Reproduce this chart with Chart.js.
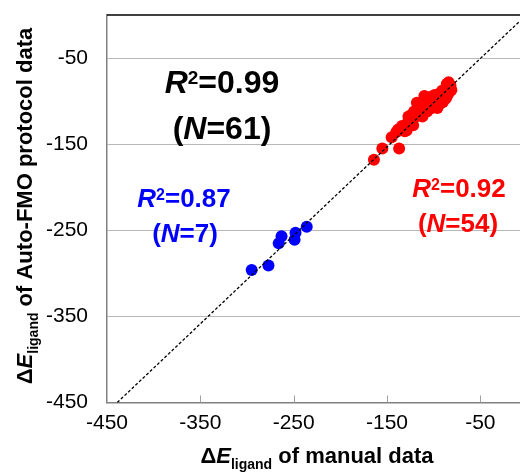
<!DOCTYPE html>
<html>
<head>
<meta charset="utf-8">
<script src="https://cdn.jsdelivr.net/npm/chart.js@4.4.0/dist/chart.umd.min.js"></script>
<style>
html, body { margin: 0; padding: 0; background: #fff; }
#wrap { width: 520px; height: 475px; }
</style>
</head>
<body>
<div id="wrap"><canvas id="chart" width="520" height="475"></canvas></div>
<script>
// axis ticks
const xTicks = [-450, -350, -250, -150, -50];
const yTicks = [-450, -350, -250, -150, -50];

// blue group (N=7)
const manualBlue = [-295, -277, -266, -263, -249, -248, -236];
const autoBlue   = [-296, -291, -265, -257, -261, -253, -246];

// red group (N=54)
const manualRed = [-164, -155, -137, -145, -140, -138, -134, -131, -129, -128,
                   -127, -125, -122, -121, -119, -118, -117, -115, -114, -112,
                   -110, -109, -108, -107, -105, -104, -103, -102, -100, -99,
                   -98, -97, -96, -95, -94, -93, -92, -91, -90, -89,
                   -88, -87, -86, -86, -85, -84, -83, -82, -81, -84,
                   -112, -106, -101, -124];
const autoRed   = [-168, -155, -155, -142, -136, -133, -129, -135, -134, -125,
                   -118, -122, -128, -112, -118, -102, -108, -115, -104, -110,
                   -94, -100, -107, -112, -98, -104, -95, -108, -100, -93,
                   -104, -97, -108, -92, -100, -103, -95, -88, -101, -96,
                   -91, -97, -80, -86, -93, -84, -89, -82, -87, -78,
                   -118, -102, -97, -116];

// dashed fit line endpoints
const fitX = [-439, -7.5];
const fitY = [-450, -6.9];

const font = '"Liberation Sans", Arial, sans-serif';

const toPoints = (xs, ys) => xs.map((v, i) => ({ x: v, y: ys[i] }));

// draw a run of text pieces centred on cx
function drawRich(ctx, parts, cx, baseline, color) {
    let total = 0;
    parts.forEach(p => {
        ctx.font = (p.italic ? 'italic ' : '') + 'bold ' + p.size + 'px ' + font;
        p.w = ctx.measureText(p.t).width;
        total += p.w;
    });
    let xx = cx - total / 2;
    ctx.fillStyle = color;
    ctx.textAlign = 'left';
    ctx.textBaseline = 'alphabetic';
    parts.forEach(p => {
        ctx.font = (p.italic ? 'italic ' : '') + 'bold ' + p.size + 'px ' + font;
        ctx.fillText(p.t, xx, baseline + (p.dy || 0));
        xx += p.w;
    });
}

const rLabel = (val, size, sup) => [
    { t: 'R', size: size, italic: true },
    { t: '2', size: sup, dy: -(0.716 * (size - sup)) },
    { t: '=' + val, size: size }
];
const nLabel = (n, size) => [
    { t: '(', size: size },
    { t: 'N', size: size, italic: true },
    { t: '=' + n + ')', size: size }
];
const titleParts = (rest) => [
    { t: '\u0394', size: 22 },
    { t: 'E', size: 22, italic: true },
    { t: 'ligand', size: 14, dy: 6 },
    { t: ' ' + rest, size: 22 }
];

const noPad = axis => {
    axis.paddingTop = 0;
    axis.paddingBottom = 0;
    axis.paddingLeft = 0;
    axis.paddingRight = 0;
};

const extras = {
    id: 'extras',
    afterDraw(chart) {
        const { ctx, chartArea: a, scales: { x } } = chart;
        ctx.save();
        // top frame line
        ctx.strokeStyle = '#000';
        ctx.lineWidth = 1.5;
        ctx.beginPath();
        ctx.moveTo(a.left, a.top);
        ctx.lineTo(a.right, a.top);
        ctx.stroke();
        // inward x ticks
        ctx.strokeStyle = '#a0a0a0';
        ctx.lineWidth = 1;
        xTicks.slice(1).forEach(v => {
            const px = Math.round(x.getPixelForValue(v)) + 0.5;
            ctx.beginPath();
            ctx.moveTo(px, a.bottom);
            ctx.lineTo(px, a.bottom - 7);
            ctx.stroke();
        });
        // annotations
        drawRich(ctx, rLabel('0.99', 32, 19), 222, 93, '#000');
        drawRich(ctx, nLabel('61', 32), 222, 139, '#000');
        drawRich(ctx, rLabel('0.87', 26, 16), 184, 207, '#0000ff');
        drawRich(ctx, nLabel('7', 26), 185, 242, '#0000ff');
        drawRich(ctx, rLabel('0.92', 26, 16), 459, 197, '#ff0000');
        drawRich(ctx, nLabel('54', 26), 458, 232, '#ff0000');
        // axis titles
        drawRich(ctx, titleParts('of manual data'), 317, 463, '#000');
        ctx.translate(32, 206);
        ctx.rotate(-Math.PI / 2);
        drawRich(ctx, titleParts('of Auto-FMO protocol data'), 0, 0, '#000');
        ctx.restore();
    }
};

const chart = new Chart(document.getElementById('chart').getContext('2d'), {
    type: 'scatter',
    data: {
        datasets: [
            {
                type: 'line',
                data: toPoints(fitX, fitY),
                borderColor: '#000',
                borderWidth: 1.3,
                borderDash: [3, 2],
                pointRadius: 0,
                fill: false,
                order: 0
            },
            {
                data: toPoints(manualRed, autoRed),
                backgroundColor: '#ff0000',
                borderWidth: 0,
                pointRadius: 6,
                order: 1
            },
            {
                data: toPoints(manualBlue, autoBlue),
                backgroundColor: '#0000ff',
                borderWidth: 0,
                pointRadius: 6,
                order: 2
            }
        ]
    },
    options: {
        responsive: false,
        animation: false,
        devicePixelRatio: 1,
        layout: { autoPadding: false, padding: { top: 15, left: 0, right: 0, bottom: 0 } },
        plugins: {
            legend: { display: false },
            tooltip: { enabled: false }
        },
        scales: {
            x: {
                type: 'linear',
                min: -450,
                max: -7.5,
                afterBuildTicks: axis => { axis.ticks = xTicks.map(v => ({ value: v })); },
                afterFit: axis => { axis.height = 72.5; noPad(axis); },
                ticks: {
                    font: { family: font, size: 21 },
                    color: '#000',
                    padding: 8,
                    maxRotation: 0,
                    autoSkip: false
                },
                grid: { display: false, drawTicks: false },
                border: { display: true, color: '#808080', width: 1.5 }
            },
            y: {
                type: 'linear',
                min: -450,
                max: 0,
                afterBuildTicks: axis => { axis.ticks = yTicks.map(v => ({ value: v })); },
                afterFit: axis => { axis.width = 107; noPad(axis); },
                ticks: {
                    font: { family: font, size: 21 },
                    color: '#000',
                    padding: 19,
                    autoSkip: false
                },
                grid: { color: '#b8b8b8', lineWidth: 1, drawTicks: false },
                border: { display: true, color: '#808080', width: 1.5 }
            }
        }
    },
    plugins: [extras]
});
</script>
</body>
</html>
